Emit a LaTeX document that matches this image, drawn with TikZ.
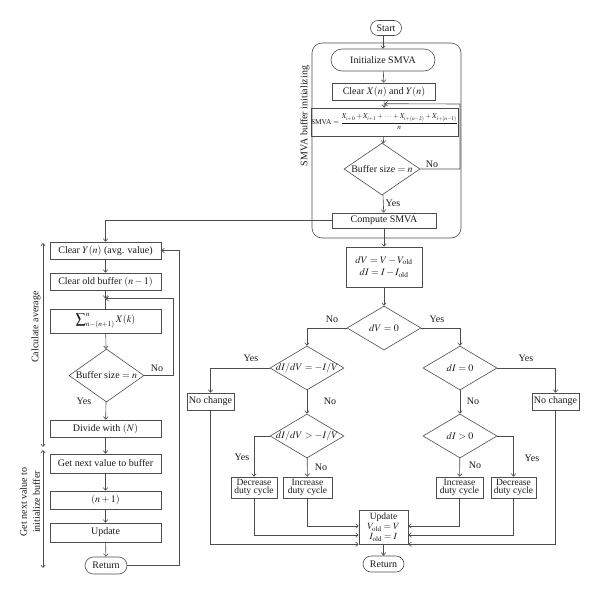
\documentclass[tikz,border=0pt]{standalone}
\usepackage{amsmath}
\usepackage{mathptmx}
\usepackage{fontspec}
\setmainfont{Liberation Serif}
\usetikzlibrary{shapes.geometric,shapes.misc,arrows.meta}
\begin{document}
\begin{tikzpicture}[x=1pt, y=-1pt, line width=0.6pt, color=black!70,
    >={Straight Barb[length=2.6pt,width=4.5pt]},
    every node/.style={font=\fontsize{10}{10}\selectfont, text=black!90},
    proc/.style={draw, rectangle, inner sep=0pt, align=center},
    lbox/.style={proc, minimum width=111pt},
    term/.style={draw, rounded rectangle, inner sep=0pt},
    dec/.style={draw, diamond, inner sep=0pt, minimum width=74pt, minimum height=44pt},
    duty/.style={proc, minimum height=21pt, font=\fontsize{9.5}{8.7}\selectfont}]
  \useasboundingbox (0,0) rectangle (600,595);

  \draw [rounded corners=10pt] (312,43) rectangle (461,238);
  \node [rotate=90] (smvalab) at (305,116) {SMVA buffer initializing};
  \node [term, minimum width=31pt, minimum height=15pt] (start) at (386,28) {Start};
  \node [term, minimum width=104pt, minimum height=22pt] (init) at (383,60) {Initialize SMVA};
  \node [proc, minimum width=103pt, minimum height=17pt] (clrx) at (384,91.5) {Clear $X(n)$ and $Y(n)$};
  \node [proc, minimum width=145pt, minimum height=28pt, font=\fontsize{7.4}{8}\selectfont]
        (smva) at (384.5,122) {SMVA $=\dfrac{X_{i+0}+X_{i+1}+\cdots+X_{i+(n-2)}+X_{i+(n-1)}}{n}$};
  \node [dec, minimum width=76pt, minimum height=52pt, label=center:{Buffer size $=n$}] (bs1) at (382,169) {};
  \node [proc, minimum width=104pt, minimum height=15pt] (comp) at (384,220.5) {Compute SMVA};
  \coordinate (j1) at ([yshift=4pt]smva.north);
  \draw [->] (start.south -| init.north) -- (init.north);
  \draw [->] (init) -- (clrx);
  \draw [->] (clrx) -- (smva);
  \draw [->] (bs1.east) -| (460,104) -- (j1);
  \draw [->] (smva) -- (bs1);
  \draw [->] (bs1) -- (comp);
  \node (no0) at (432,164) {No};
  \node (yes0) at (393,203) {Yes};

  \node [lbox, minimum height=17pt] (cy) at (105.5,250.5) {Clear $Y(n)$ (avg. value)};
  \node [lbox, minimum height=17pt] (cob) at (105.5,281.5) {Clear old buffer $(n-1)$};
  \node [lbox, minimum height=24pt] (sum) at (105.5,321) {$\displaystyle\sum\nolimits_{n-(n+1)}^{n} X(k)$};
  \node [dec, minimum width=75pt, minimum height=53pt, label=center:{Buffer size $=n$}] (bs2) at (106.5,375.5) {};
  \node [lbox, minimum height=17pt] (div) at (105.5,428.5) {Divide with $(N)$};
  \node [lbox, minimum height=19pt] (gnv) at (105.5,463.5) {Get next value to buffer};
  \node [lbox, minimum height=18pt] (np1) at (105.5,500) {$(n+1)$};
  \node [lbox, minimum height=19pt] (upd1) at (105.5,532.5) {Update};
  \node [term, minimum width=42pt, minimum height=17pt] (ret1) at (106,565.5) {Return};
  \coordinate (j2) at ([yshift=10pt]sum.north);
  \draw [->] (comp.west) -| (cy.north);
  \draw [->] (cy) -- (cob);
  \draw [->] (cob) -- (j2);
  \draw (j2) -- (sum);
  \draw [->] (bs2.east) -- ++(29,0) |- (j2);
  \draw [->] (sum) -- (bs2);
  \draw [->] (bs2) -- (div);
  \draw [->] (div) -- (gnv);
  \draw [->] (gnv) -- (np1);
  \draw [->] (np1) -- (upd1);
  \draw [->] (upd1) -- (ret1);
  \draw [->] (ret1.east) -| ([xshift=18pt]cy.east) -- (cy.east);
  \node (no2) at (157,368) {No};
  \node (yes2) at (84,401) {Yes};

  \coordinate (ca1) at (43,243);
  \coordinate (ca2) at (43,447);
  \coordinate (gn1) at (43,450);
  \coordinate (gn2) at (43,568);
  \draw [<->] (ca1) -- (ca2);
  \draw [<->] (gn1) -- (gn2);
  \node [rotate=90] (calab) at (36,327) {Calculate average};
  \node [rotate=90, align=center, font=\fontsize{10}{13}\selectfont] (gnlab) at (30,502)
        {Get next value to\\initialize buffer};

  \node [proc, minimum width=76pt, minimum height=40pt, font=\fontsize{10}{12.5}\selectfont]
        (dv) at (384,267) {$dV=V-V_{\mathrm{old}}$\\$dI=I-I_{\mathrm{old}}$};
  \node [dec, label=center:{$dV=0$}] (dv0) at (384,328) {};
  \node [dec, label=center:{$dI/dV=-I/V$}] (d1) at (307,368) {};
  \node [dec, label=center:{$dI=0$}] (d2) at (460,368) {};
  \node [proc, minimum width=47pt, minimum height=17pt] (nc1) at (210.5,401.5) {No change};
  \node [proc, minimum width=47pt, minimum height=17pt] (nc2) at (555.5,401.5) {No change};
  \node [dec, label=center:{$dI/dV>-I/V$}] (d3) at (307,436) {};
  \node [dec, label=center:{$dI>0$}] (d4) at (460,436) {};
  \node [duty, minimum width=46pt] (dec1) at (254,487.5) {Decrease\\duty cycle};
  \node [duty, minimum width=49pt] (inc1) at (307.5,487.5) {Increase\\duty cycle};
  \node [duty, minimum width=47pt] (inc2) at (459.5,487.5) {Increase\\duty cycle};
  \node [duty, minimum width=45pt] (dec2) at (513.5,487.5) {Decrease\\duty cycle};
  \node [proc, minimum width=49pt, minimum height=34pt, font=\fontsize{9.5}{10}\selectfont]
        (upd) at (383.5,527) {Update\\$V_{\mathrm{old}}=V$\\$I_{\mathrm{old}}=I$};
  \node [term, minimum width=41pt, minimum height=16pt] (ret2) at (383.5,564) {Return};
  \draw [->] (comp) -- (dv);
  \draw [->] (dv) -- (dv0);
  \draw [->] (dv0.west) -| (d1.north);
  \draw [->] (dv0.east) -| (d2.north);
  \draw [->] (d1.west) -| (nc1.north);
  \draw [->] (d1) -- (d3);
  \draw [->] (d2.east) -| (nc2.north);
  \draw [->] (d2) -- (d4);
  \draw [->] (d3.west) -| (dec1.north);
  \draw [->] (d3) -- (inc1);
  \draw [->] (d4.east) -| (dec2.north);
  \draw [->] (d4) -- (inc2);
  \draw [->] (inc1.south) |- ([yshift=1pt]upd.west);
  \draw [->] (dec1.south) |- ([yshift=-8pt]upd.west);
  \draw [->] (nc1.south) |- (upd.south west);
  \draw [->] (inc2.south) |- ([yshift=1pt]upd.east);
  \draw [->] (dec2.south) |- ([yshift=-8pt]upd.east);
  \draw [->] (nc2.south) |- (upd.south east);
  \draw [->] (upd) -- (ret2);
  \node (no3) at (332,319) {No};
  \node (yes3) at (437,319) {Yes};
  \node (yes4) at (251,358) {Yes};
  \node (no4) at (330,401) {No};
  \node (yes5) at (526,358) {Yes};
  \node (no5) at (473,401) {No};
  \node (yes6) at (242,457) {Yes};
  \node (no6) at (321,467) {No};
  \node (yes7) at (532,458) {Yes};
  \node (no7) at (475,465) {No};
\end{tikzpicture}
\end{document}
